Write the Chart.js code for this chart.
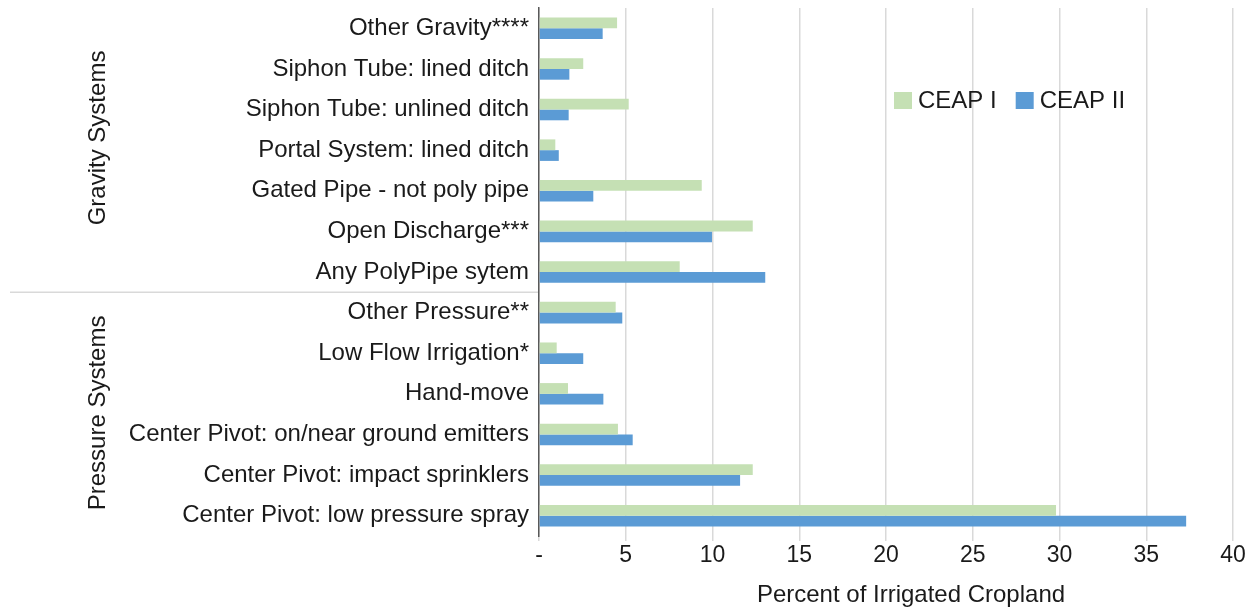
<!DOCTYPE html>
<html>
<head>
<meta charset="utf-8">
<script src="https://cdn.jsdelivr.net/npm/chart.js@4"></script>
<style>
  html, body { margin: 0; padding: 0; background: #fff; }
  #wrap { width: 1257px; height: 611px; }
</style>
</head>
<body>
<div id="wrap"><canvas id="irrigationChart"></canvas></div>
<script>
// categories, top to bottom
const categories = [
    'Other Gravity****',
    'Siphon Tube: lined ditch',
    'Siphon Tube: unlined ditch',
    'Portal System: lined ditch',
    'Gated Pipe - not poly pipe',
    'Open Discharge***',
    'Any PolyPipe sytem',
    'Other Pressure**',
    'Low Flow Irrigation*',
    'Hand-move',
    'Center Pivot: on/near ground emitters',
    'Center Pivot: impact sprinklers',
    'Center Pivot: low pressure spray'
];

// Werte in Prozent der bewässerten Fläche
const ceap1 = [4.5, 2.55, 5.17, 0.94, 9.38, 12.32, 8.11, 4.42, 1.02, 1.67, 4.55, 12.32, 29.8];
const ceap2 = [3.67, 1.75, 1.71, 1.14, 3.13, 9.97, 13.04, 4.8, 2.55, 3.71, 5.4, 11.59, 37.3];

const seriesNames = ['CEAP I', 'CEAP II'];
const xTickValues = [0, 5, 10, 15, 20, 25, 30, 35, 40];
const groupNames = ['Gravity Systems', 'Pressure Systems'];
const xTitle = 'Percent of Irrigated Cropland';

const green = 'rgb(197, 224, 180)';
const blue = 'rgb(91, 155, 213)';
const font = "'Liberation Sans', Arial, sans-serif";
const textColor = '#1a1a1a';

// Gruppenlabels, Trennlinie, Achsentitel und Legende
const extrasPlugin = {
    id: 'extras',
    afterDraw(chart) {
        const ctx = chart.ctx;
        const y = chart.scales.y;
        const area = chart.chartArea;
        ctx.save();

        // Trennlinie zwischen Gravity und Pressure
        const sepY = (y.getPixelForValue(6) + y.getPixelForValue(7)) / 2;
        ctx.strokeStyle = '#d9d9d9';
        ctx.lineWidth = 1.5;
        ctx.beginPath();
        ctx.moveTo(10, sepY);
        ctx.lineTo(area.left - 1, sepY);
        ctx.stroke();

        // rotierte Gruppenlabels
        ctx.fillStyle = textColor;
        ctx.font = '24px ' + font;
        ctx.textAlign = 'center';
        ctx.textBaseline = 'middle';
        const centers = [y.getPixelForValue(2.7), y.getPixelForValue(9.47)];
        groupNames.forEach((name, i) => {
            ctx.save();
            ctx.translate(98, centers[i]);
            ctx.rotate(-Math.PI / 2);
            ctx.fillText(name, 0, 0);
            ctx.restore();
        });

        // Achsentitel (leicht rechts der Mitte wie im Original)
        ctx.fillText(xTitle, 911, 595);

        // Legende im Plotbereich
        const colors = [green, blue];
        let lx = 894;
        const ly = 100;
        ctx.textAlign = 'left';
        seriesNames.forEach((name, i) => {
            ctx.fillStyle = colors[i];
            ctx.fillRect(lx, ly - 8, 18, 17);
            ctx.fillStyle = textColor;
            ctx.fillText(name, lx + 24, ly + 1);
            lx += 24 + ctx.measureText(name).width + 19;
        });
        ctx.restore();
    }
};

const irrigationChart = new Chart(document.getElementById('irrigationChart'), {
    type: 'bar',
    data: {
        labels: categories,
        datasets: [
            { label: seriesNames[0], data: ceap1, backgroundColor: green },
            { label: seriesNames[1], data: ceap2, backgroundColor: blue }
        ]
    },
    options: {
        indexAxis: 'y',
        responsive: true,
        maintainAspectRatio: false,
        animation: false,
        layout: { padding: { top: 8, right: 24, bottom: 0, left: 0 } },
        datasets: {
            bar: { categoryPercentage: 0.53, barPercentage: 1.0 }
        },
        plugins: {
            legend: { display: false },
            tooltip: { enabled: false }
        },
        scales: {
            x: {
                min: 0,
                max: 40,
                afterBuildTicks(scale) {
                    scale.ticks = xTickValues.map(v => ({ value: v }));
                },
                afterFit(scale) {
                    scale.height = 75;
                    scale.paddingLeft = 0;
                    scale.paddingRight = 0;
                },
                grid: {
                    color: '#d9d9d9',
                    lineWidth: 1.5,
                    drawTicks: true,
                    tickLength: 5
                },
                border: { display: false },
                ticks: {
                    color: textColor,
                    font: { family: font, size: 23 },
                    padding: 1,
                    maxRotation: 0,
                    callback: v => (v === 0 ? '-' : v)
                },
                title: { display: false }
            },
            y: {
                afterFit(scale) {
                    scale.width = 539;
                    scale.paddingTop = 0;
                    scale.paddingBottom = 0;
                },
                grid: { display: false, drawTicks: false },
                border: { display: true, color: '#595959', width: 1.5 },
                ticks: {
                    color: textColor,
                    font: { family: font, size: 24 },
                    padding: 10
                }
            }
        }
    },
    plugins: [extrasPlugin]
});
</script>
</body>
</html>
